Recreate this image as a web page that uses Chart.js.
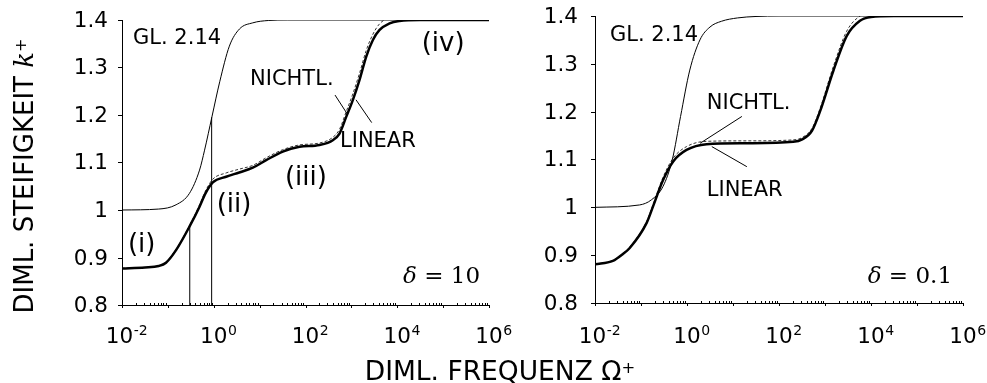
<!DOCTYPE html>
<html>
<head>
<meta charset="utf-8">
<script src="https://cdn.jsdelivr.net/npm/chart.js@4.4.1/dist/chart.umd.min.js"></script>
<style>
  body { margin: 0; background: #fff; }
  #page { position: relative; width: 987px; height: 383px; overflow: hidden; font-family: "DejaVu Sans", Verdana, sans-serif; color: #000; }
  #chart-d10 { position: absolute; left: 0; top: 0; }
  #chart-d01 { position: absolute; left: 495px; top: 0; }
  .title { position: absolute; line-height: 30px; white-space: nowrap; text-align: center; }
  .title i { font-family: "DejaVu Serif", serif; }
  .title sup { font-size: 0.62em; vertical-align: 0; position: relative; top: -0.45em; }
  #ytitle { font-size: 26px; left: -146px; top: 161px; width: 340px; height: 30px; transform: rotate(-90deg); }
  #xtitle { font-size: 26.5px; left: 280px; top: 356px; width: 440px; }
</style>
</head>
<body>
<div id="page">
  <canvas id="chart-d10" width="545" height="383"></canvas>
  <canvas id="chart-d01" width="492" height="383"></canvas>
  <div class="title" id="ytitle">DIML. STEIFIGKEIT <i>k</i><sup>+</sup></div>
  <div class="title" id="xtitle">DIML. FREQUENZ Ω<sup>+</sup></div>
</div>
<script>
// Achsen
const xExponents = [-2, -1, 0, 1, 2, 3, 4, 5, 6];
const xLabelExponents = [-2, 0, 2, 4, 6];
const yTicks = [0.8, 0.9, 1.0, 1.1, 1.2, 1.3, 1.4];
const yTickLabels = ['0.8', '0.9', '1', '1.1', '1.2', '1.3', '1.4'];

// delta = 10: Gl. 2.14
const d10GlFreq = [0.01, 0.063, 0.151, 0.295, 0.49, 0.631, 0.912, 1.35, 2.19, 3.63, 7.08, 15.8, 39.8, 1e6];
const d10Gl = [1.0, 1.002, 1.011, 1.035, 1.084, 1.126, 1.196, 1.27, 1.345, 1.381, 1.394, 1.399, 1.4, 1.4];
// delta = 10: linear / nichtlinear
const d10Freq = [0.01, 0.0316, 0.063, 0.091, 0.152, 0.307, 0.49, 0.66, 0.955, 1.86, 3.6, 7.1, 13.9, 32, 74, 202, 394, 552, 771, 1080, 1507, 2109, 2944, 4121, 6808, 11246, 31623, 1e5, 1e6];
const d10Linear = [0.877, 0.879, 0.882, 0.889, 0.916, 0.968, 1.007, 1.035, 1.058, 1.070, 1.079, 1.089, 1.105, 1.123, 1.133, 1.137, 1.147, 1.161, 1.196, 1.232, 1.274, 1.323, 1.358, 1.379, 1.393, 1.398, 1.4, 1.4, 1.4];
const d10Nonlin = [0.877, 0.879, 0.883, 0.890, 0.918, 0.970, 1.011, 1.040, 1.065, 1.078, 1.086, 1.094, 1.110, 1.127, 1.137, 1.141, 1.153, 1.170, 1.207, 1.245, 1.288, 1.336, 1.370, 1.392, 1.405, 1.409, 1.407, 1.404, 1.403];
// Hilfslinien bei den Übergangsfrequenzen
const d10MarkFreq = [0.3, 0.9];
const d10MarkTop = [0.967, 1.195];

// delta = 0.1: Gl. 2.14
const d01GlFreq = [0.01, 0.0933, 0.17, 0.302, 0.48, 0.724, 1.15, 1.91, 3.16, 5.62, 12.6, 31.6, 100, 1e6];
const d01Gl = [1.0, 1.005, 1.016, 1.044, 1.10, 1.19, 1.287, 1.35, 1.377, 1.389, 1.396, 1.399, 1.4, 1.4];
// delta = 0.1: linear / nichtlinear
const d01Freq = [0.01, 0.0245, 0.04, 0.0569, 0.132, 0.183, 0.302, 0.501, 0.977, 2.66, 19.8, 204, 320, 520, 776, 1514, 2951, 5754, 10000, 31623, 1e5, 1e6];
const d01Linear = [0.881, 0.888, 0.902, 0.915, 0.967, 1.002, 1.057, 1.096, 1.120, 1.132, 1.134, 1.137, 1.142, 1.160, 1.200, 1.285, 1.358, 1.390, 1.398, 1.4, 1.4, 1.4];
const d01Nonlin = [0.881, 0.889, 0.903, 0.917, 0.970, 1.006, 1.063, 1.103, 1.127, 1.138, 1.139, 1.141, 1.146, 1.165, 1.206, 1.294, 1.368, 1.400, 1.407, 1.406, 1.404, 1.404];

const pts = (xs, ys) => xs.map((x, i) => ({ x, y: ys[i] }));

const SANS = '"DejaVu Sans", Verdana, sans-serif';
const SERIF = '"DejaVu Serif", serif';

// Texte und Bezugslinien in Datenkoordinaten
const d10Notes = [
  { text: 'GL. 2.14', x: 0.0174, y: 1.36, size: 21 },
  { text: 'NICHTL.', x: 6.17, y: 1.274, size: 21 },
  { text: 'LINEAR', x: 565, y: 1.145, size: 21 },
  { text: '(i)', x: 0.0135, y: 0.925, size: 26 },
  { text: '(ii)', x: 1.16, y: 1.009, size: 26 },
  { text: '(iii)', x: 35.7, y: 1.067, size: 26 },
  { text: '(iv)', x: 34100, y: 1.35, size: 26 }
];
const d10Leaders = [
  [440, 1.242, 791, 1.204],
  [1262, 1.232, 2773, 1.184]
];
const d01Notes = [
  { text: 'GL. 2.14', x: 0.0212, y: 1.359, size: 21 },
  { text: 'NICHTL.', x: 2.69, y: 1.216, size: 21 },
  { text: 'LINEAR', x: 2.69, y: 1.035, size: 21 }
];
const d01Leaders = [
  [15.6, 1.19, 1.93, 1.134],
  [3.46, 1.127, 20.0, 1.085]
];

const panelAxes = {
  id: 'panelAxes',
  afterDraw(chart, args, opts) {
    const { ctx, chartArea: a, scales: { x, y } } = chart;
    ctx.save();
    ctx.strokeStyle = '#000';
    ctx.fillStyle = '#000';
    ctx.lineWidth = 1;

    // y-Striche und Beschriftung
    ctx.font = '21.5px ' + SANS;
    ctx.textAlign = 'right';
    ctx.textBaseline = 'middle';
    yTicks.forEach((v, i) => {
      const py = Math.round(y.getPixelForValue(v)) + 0.5;
      ctx.beginPath();
      ctx.moveTo(a.left - 4, py);
      ctx.lineTo(a.left, py);
      ctx.stroke();
      ctx.fillText(yTickLabels[i], a.left - opts.yGap, py + 1);
    });

    // x-Striche: Dekaden nach außen, Zwischenwerte nach innen
    xExponents.forEach(e => {
      const px = Math.round(x.getPixelForValue(10 ** e)) + 0.5;
      ctx.beginPath();
      ctx.moveTo(px, a.bottom);
      ctx.lineTo(px, a.bottom + 3);
      ctx.stroke();
      if (e < 6) {
        for (let m = 2; m <= 9; m++) {
          const mx = Math.round(x.getPixelForValue(m * 10 ** e)) + 0.5;
          ctx.beginPath();
          ctx.moveTo(mx, a.bottom);
          ctx.lineTo(mx, a.bottom - 2);
          ctx.stroke();
        }
      }
    });

    // x-Beschriftung als Zehnerpotenz
    ctx.textAlign = 'left';
    ctx.textBaseline = 'alphabetic';
    xLabelExponents.forEach(e => {
      const px = x.getPixelForValue(10 ** e);
      const sup = String(e);
      ctx.font = '14px ' + SANS;
      const supW = ctx.measureText(sup).width;
      const digitW = ctx.measureText('0').width;
      ctx.font = '21.5px ' + SANS;
      const baseW = ctx.measureText('10').width;
      const x0 = px - baseW / 2 - (supW - digitW) / 2;
      ctx.fillText('10', x0, a.bottom + opts.xLabelDy);
      ctx.font = '14px ' + SANS;
      ctx.fillText(sup, x0 + baseW + 0.5, a.bottom + opts.xLabelDy - 8.5);
    });

    // Kurvenbezeichnungen
    ctx.textBaseline = 'middle';
    opts.notes.forEach(n => {
      ctx.font = n.size + 'px ' + SANS;
      ctx.fillText(n.text, x.getPixelForValue(n.x), y.getPixelForValue(n.y));
    });
    opts.leaders.forEach(([x1, y1, x2, y2]) => {
      ctx.beginPath();
      ctx.moveTo(x.getPixelForValue(x1), y.getPixelForValue(y1));
      ctx.lineTo(x.getPixelForValue(x2), y.getPixelForValue(y2));
      ctx.stroke();
    });

    // Parameterangabe delta = ...
    ctx.textBaseline = 'alphabetic';
    const right = x.getPixelForValue(opts.delta.x);
    const base = y.getPixelForValue(opts.delta.y);
    ctx.font = 'italic 23px ' + SERIF;
    const wd = ctx.measureText('δ').width;
    ctx.font = '23px ' + SERIF;
    const rest = ' = ' + opts.delta.value;
    const wr = ctx.measureText(rest).width;
    ctx.font = 'italic 23px ' + SERIF;
    ctx.fillText('δ', right - wr - wd, base);
    ctx.font = '23px ' + SERIF;
    ctx.fillText(rest, right - wr, base);
    ctx.restore();
  }
};

function makePanel(canvasId, p) {
  const datasets = [
    { data: pts(p.glFreq, p.gl), borderColor: '#000', borderWidth: 1 },
    { data: pts(p.freq, p.linear), borderColor: '#000', borderWidth: 2.5 },
    { data: pts(p.freq, p.nonlin), borderColor: '#333', borderWidth: 1, borderDash: [3, 2] }
  ];
  (p.markFreq || []).forEach((f, i) => {
    datasets.push({
      data: [{ x: f, y: 0.8 }, { x: f, y: p.markTop[i] }],
      borderColor: '#000', borderWidth: 1, tension: 0, cubicInterpolationMode: 'default'
    });
  });

  return new Chart(document.getElementById(canvasId), {
    type: 'line',
    data: { datasets },
    options: {
      responsive: false,
      animation: false,
      layout: { padding: p.padding },
      elements: {
        point: { radius: 0 },
        line: { cubicInterpolationMode: 'monotone', borderCapStyle: 'butt' }
      },
      plugins: {
        legend: { display: false },
        tooltip: { enabled: false },
        panelAxes: {
          yGap: p.yGap,
          xLabelDy: p.xLabelDy,
          notes: p.notes,
          leaders: p.leaders,
          delta: p.delta
        }
      },
      scales: {
        x: {
          type: 'logarithmic', min: 0.01, max: 1e6,
          grid: { display: false, drawTicks: false },
          ticks: { display: false },
          border: { display: true, color: '#000', width: 1 }
        },
        y: {
          type: 'linear', min: 0.8, max: 1.4,
          grid: { display: false, drawTicks: false },
          ticks: { display: false },
          border: { display: true, color: '#000', width: 1 }
        }
      }
    },
    plugins: [panelAxes]
  });
}

makePanel('chart-d10', {
  glFreq: d10GlFreq, gl: d10Gl,
  freq: d10Freq, linear: d10Linear, nonlin: d10Nonlin,
  markFreq: d10MarkFreq, markTop: d10MarkTop,
  padding: { left: 122, right: 56, top: 20, bottom: 78 },
  yGap: 14, xLabelDy: 38,
  notes: d10Notes, leaders: d10Leaders,
  delta: { x: 637000, y: 0.846, value: '10' }
});

makePanel('chart-d01', {
  glFreq: d01GlFreq, gl: d01Gl,
  freq: d01Freq, linear: d01Linear, nonlin: d01Nonlin,
  padding: { left: 100, right: 24, top: 16, bottom: 80 },
  yGap: 17, xLabelDy: 40,
  notes: d01Notes, leaders: d01Leaders,
  delta: { x: 577000, y: 0.841, value: '0.1' }
});
</script>
</body>
</html>
